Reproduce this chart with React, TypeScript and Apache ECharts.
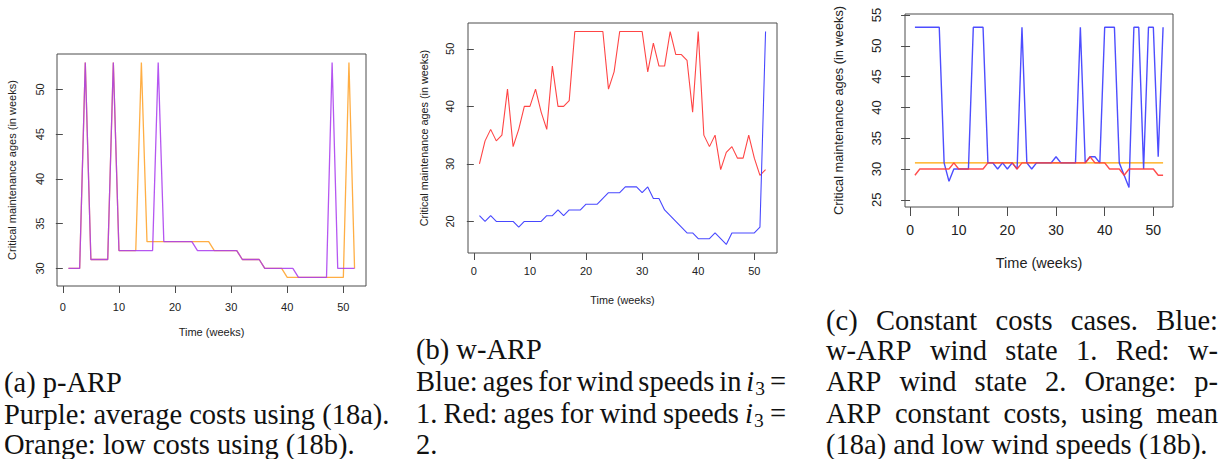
import React, { useEffect, useRef } from 'react';
import * as echarts from 'echarts';

// ---------- data ----------
const weeks = Array.from({ length: 52 }, (_, i) => i + 1);
const xTickValues = [0, 10, 20, 30, 40, 50];

// (a) p-ARP
const aPurple = [30, 30, 30, 53, 31, 31, 31, 31, 53, 32, 32, 32, 32, 32, 32, 32, 53, 33, 33, 33, 33, 33, 33, 32, 32, 32, 32, 32, 32, 32, 32, 31, 31, 31, 31, 30, 30, 30, 30, 30, 30, 29, 29, 29, 29, 29, 29, 53, 30, 30, 30, 30];
const aOrange = [30, 30, 30, 53, 31, 31, 31, 31, 53, 32, 32, 32, 32, 53, 33, 33, 33, 33, 33, 33, 33, 33, 33, 33, 33, 33, 32, 32, 32, 32, 32, 31, 31, 31, 31, 30, 30, 30, 30, 29, 29, 29, 29, 29, 29, 29, 29, 29, 29, 29, 53, 30];
const aYTicks = [30, 35, 40, 45, 50];

// (b) w-ARP
const bRed = [30, 34, 36, 34, 35, 43, 33, 36, 40, 40, 43, 39, 36, 47, 40, 40, 41, 53, 53, 53, 53, 53, 53, 43, 46, 53, 53, 53, 53, 53, 46, 51, 47, 47, 53, 49, 49, 48, 39, 53, 35, 33, 35, 29, 32, 33, 31, 31, 35, 31, 28, 29];
const bBlue = [21, 20, 21, 20, 20, 20, 20, 19, 20, 20, 20, 20, 21, 21, 22, 21, 22, 22, 22, 23, 23, 23, 24, 25, 25, 25, 26, 26, 26, 25, 26, 24, 24, 22, 21, 20, 19, 18, 18, 17, 17, 17, 18, 17, 16, 18, 18, 18, 18, 18, 19, 53];
const bYTicks = [20, 30, 40, 50];

// (c) constant costs
const cBlue = [53, 53, 53, 53, 53, 53, 31, 28, 30, 30, 30, 30, 53, 53, 53, 31, 31, 30, 31, 30, 31, 30, 53, 31, 30, 31, 31, 31, 31, 32, 31, 31, 31, 31, 53, 31, 32, 32, 31, 53, 53, 53, 31, 29, 27, 53, 53, 30, 53, 53, 32, 53];
const cRed = [29, 30, 30, 30, 30, 30, 30, 30, 31, 30, 30, 30, 30, 30, 30, 31, 31, 31, 31, 31, 31, 30, 31, 31, 31, 31, 31, 31, 31, 31, 31, 31, 31, 31, 31, 31, 32, 31, 31, 31, 30, 30, 30, 29, 30, 30, 30, 30, 30, 30, 29, 29];
const cOrange = [31, 31, 31, 31, 31, 31, 31, 31, 31, 31, 31, 31, 31, 31, 31, 31, 31, 31, 31, 31, 31, 31, 31, 31, 31, 31, 31, 31, 31, 31, 31, 31, 31, 31, 31, 31, 31, 31, 31, 31, 31, 31, 31, 31, 31, 31, 31, 31, 31, 31, 31, 31];
const cYTicks = [25, 30, 35, 40, 45, 50, 55];

const xName = 'Time (weeks)';
const yName = 'Critical maintenance ages (in weeks)';

// captions: '§' marks the italic i with subscript 3
const captionA = ['(a) p-ARP', 'Purple: average costs using (18a).', 'Orange: low costs using (18b).'];
const captionB = ['(b) w-ARP', 'Blue: ages for wind speeds in § =', '1. Red: ages for wind speeds § =', '2.'];
const captionC = ['(c) Constant costs cases. Blue:', 'w-ARP wind state 1. Red: w-', 'ARP wind state 2. Orange: p-', 'ARP constant costs, using mean', '(18a) and low wind speeds (18b).'];

// ---------- styling ----------
const SANS = '"Liberation Sans", Arial, Helvetica, sans-serif';
const SERIF = '"Liberation Serif", "Times New Roman", serif';
const CAP_SIZE = 28.5;
const SUB_SIZE = 19.5;
const TEXT = '#222';
const BOX = '#4d4d4d';

const panels = [
  { grid: { left: 57, top: 54, width: 309, height: 232 }, yMin: 28.04, yMax: 53.96, yTicks: aYTicks,
    fs: 11, xfs: 11, yfs: 11, xLM: 15, yLM: 11.5, xNG: 40, yNG: 39.5, tick: 7 },
  { grid: { left: 468, top: 23, width: 309, height: 230 }, yMin: 14.52, yMax: 54.48, yTicks: bYTicks,
    fs: 10.8, xfs: 11, yfs: 11, xLM: 12, yLM: 12.5, xNG: 41, yNG: 39, tick: 7 },
  { grid: { left: 905, top: 14, width: 268, height: 193 }, yMin: 23.84, yMax: 55.16, yTicks: cYTicks,
    fs: 14.5, xfs: 14, yfs: 13, xLM: 15.5, yLM: 22, xNG: 48, yNG: 60, tick: 9, yNameFs: 12.8 },
];

function pts(arr: number[]) {
  return weeks.map((w, i) => [w, arr[i]]);
}

function line(idx: number, arr: number[], color: string, width: number, opacity = 1) {
  return {
    type: 'line', xAxisIndex: idx, yAxisIndex: idx, data: pts(arr),
    symbol: 'none', showSymbol: false, silent: true,
    lineStyle: { color, width, opacity }, itemStyle: { color },
  };
}

function buildCaptions() {
  const canvas = document.createElement('canvas');
  const ctx = canvas.getContext('2d')!;
  const normalFont = `${CAP_SIZE}px ${SERIF}`;
  const italicFont = `italic ${CAP_SIZE}px ${SERIF}`;
  const subFont = `${SUB_SIZE}px ${SERIF}`;
  const meas = (t: string, f: string) => { ctx.font = f; return ctx.measureText(t).width; };
  const space = meas(' ', normalFont);
  const els: any[] = [];

  const wordWidth = (w: string) => (w === '§' ? meas('i', italicFont) + meas('3', subFont) + 1 : meas(w, normalFont));

  const layout = (text: string, x0: number, y: number, justify: number | null) => {
    const words = text.split(' ');
    const widths = words.map(wordWidth);
    const total = widths.reduce((s, v) => s + v, 0);
    let gap = justify && words.length > 1 ? (justify - total) / (words.length - 1) : space;
    if (gap < space * 0.5) gap = space * 0.5;
    let x = x0;
    words.forEach((w, i) => {
      if (w === '§') {
        els.push({ type: 'text', x, y, silent: true,
          style: { text: 'i', fontSize: CAP_SIZE, fontStyle: 'italic', fontFamily: SERIF, fill: '#111', verticalAlign: 'middle', align: 'left' } });
        const iw = meas('i', italicFont);
        els.push({ type: 'text', x: x + iw + 1, y: y + 7, silent: true,
          style: { text: '3', fontSize: SUB_SIZE, fontFamily: SERIF, fill: '#111', verticalAlign: 'middle', align: 'left' } });
      } else {
        els.push({ type: 'text', x, y, silent: true,
          style: { text: w, fontSize: CAP_SIZE, fontFamily: SERIF, fill: '#111', verticalAlign: 'middle', align: 'left' } });
      }
      x += widths[i] + gap;
    });
  };

  const aY = [382, 414, 444];
  captionA.forEach((t, i) => layout(t, 4, aY[i], null));
  const bY = [349, 381, 413, 444];
  captionB.forEach((t, i) => layout(t, 416, bY[i], i === 1 || i === 2 ? 370 : null));
  const cY = [320, 350, 381, 413, 444];
  captionC.forEach((t, i) => layout(t, 826, cY[i], i < 4 ? 392 : null));
  return els;
}

function buildOption() {
  const grid = panels.map((p) => ({
    ...p.grid, show: true, borderColor: BOX, borderWidth: 1, backgroundColor: 'transparent',
    containLabel: false, outerBoundsMode: 'none',
  }));
  const xAxis = panels.map((p, i) => ({
    gridIndex: i, type: 'value', min: -1.04, max: 54.04,
    axisLine: { show: false },
    axisTick: { show: true, customValues: xTickValues, length: p.tick, lineStyle: { color: BOX, width: 1 } },
    axisLabel: { customValues: xTickValues, margin: p.xLM, fontSize: p.xfs, color: TEXT, fontFamily: SANS },
    splitLine: { show: false },
    name: xName, nameLocation: 'middle', nameGap: p.xNG,
    nameTextStyle: { fontSize: p.fs, color: TEXT, fontFamily: SANS },
  }));
  const yAxis = panels.map((p, i) => ({
    gridIndex: i, type: 'value', min: p.yMin, max: p.yMax,
    axisLine: { show: false },
    axisTick: { show: true, customValues: p.yTicks, length: p.tick, lineStyle: { color: BOX, width: 1 } },
    axisLabel: { customValues: p.yTicks, margin: p.yLM, rotate: 90, fontSize: p.yfs, color: TEXT, fontFamily: SANS },
    splitLine: { show: false },
    name: yName, nameLocation: 'middle', nameGap: p.yNG,
    nameTextStyle: { fontSize: (p as any).yNameFs || p.fs, color: TEXT, fontFamily: SANS },
  }));
  const series = [
    line(0, aOrange, '#ffa530', 1.3, 0.9),
    line(0, aPurple, '#a838ee', 1.3, 0.85),
    line(1, bRed, '#ff4545', 1.1),
    line(1, bBlue, '#4848ff', 1.1),
    line(2, cOrange, '#ffa500', 1.3),
    line(2, cBlue, '#3a3aff', 1.4, 0.9),
    line(2, cRed, '#ff3a3a', 1.4, 0.9),
  ];
  return {
    animation: false,
    backgroundColor: '#ffffff',
    grid, xAxis, yAxis, series,
    graphic: buildCaptions(),
  };
}

export default function App() {
  const ref = useRef<HTMLDivElement>(null);
  useEffect(() => {
    document.body.style.margin = '0';
    const chart = echarts.init(ref.current!, null, { renderer: 'svg' });
    chart.setOption(buildOption() as any);
    return () => chart.dispose();
  }, []);
  return <div ref={ref} style={{ position: 'absolute', left: 0, top: 0, width: 1226, height: 459 }} />;
}
